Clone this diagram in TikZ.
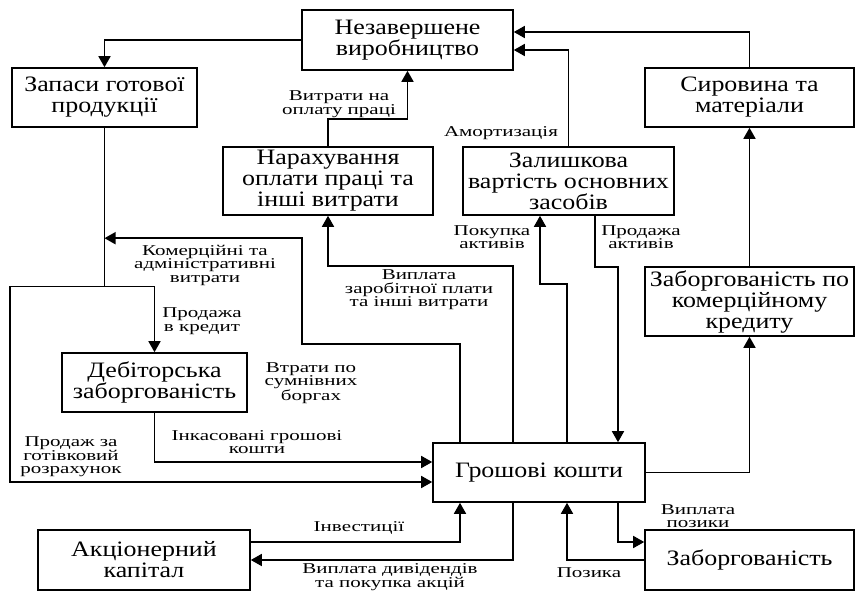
\documentclass[tikz,border=0pt]{standalone}
\usepackage{fontspec}
\setmainfont{Liberation Serif}
\newfontfamily\boxfont[FakeStretch=1.18]{Liberation Serif}
\newfontfamily\lblfont[FakeStretch=1.4]{Liberation Serif}
\usetikzlibrary{arrows.meta}
\begin{document}
\begin{tikzpicture}[x=1pt,y=-1pt,
  box/.style={draw,line width=1.6pt,rectangle,align=center,inner sep=1pt,
    font=\boxfont\fontsize{22}{21}\selectfont},
  lbl/.style={align=center,inner sep=0pt,font=\lblfont\fontsize{15}{13.5}\selectfont},
  flow/.style={line width=1.6pt},
  arr/.style={flow,-{Triangle[length=11pt,width=12pt]}}]
\useasboundingbox (0,0) rectangle (855,591);

% accounts
\node[box,minimum width=211pt,minimum height=60pt] (nez) at (407.5,40) {Незавершене\\виробництво};
\node[box,minimum width=185pt,minimum height=59pt] (zap) at (104.5,97.5) {Запаси готової\\продукції};
\node[box,minimum width=210pt,minimum height=68pt] (nar) at (328,181) {Нарахування\\оплати праці та\\інші витрати};
\node[box,minimum width=211pt,minimum height=68pt] (zal) at (568.5,181) {Залишкова\\вартість основних\\засобів};
\node[box,minimum width=209pt,minimum height=59pt] (syr) at (749.5,97.5) {Сировина та\\матеріали};
\node[box,minimum width=209pt,minimum height=69pt] (zkk) at (749.5,301.5) {Заборгованість по\\комерційному\\кредиту};
\node[box,minimum width=185pt,minimum height=59pt] (deb) at (154.5,382.5) {Дебіторська\\заборгованість};
\node[box,minimum width=212pt,minimum height=59pt] (gro) at (539,472.5) {Грошові кошти};
\node[box,minimum width=212pt,minimum height=60pt] (akc) at (144,560) {Акціонерний\\капітал};
\node[box,minimum width=209pt,minimum height=60pt] (zab) at (749.5,560) {Заборгованість};

% flows into and out of work in progress
\draw[arr] (nez.west) -| (zap.north);
\draw[arr] (nar.north) -- ++(0,-27) -| (nez.south);
\draw[arr] (zal.north) |- ([yshift=-10pt]nez.east);
\draw[arr] (syr.north) |- ([yshift=8pt]nez.east);

% finished goods: credit and cash sales
\draw[flow] (zap.south) -- ++(0,158.5) coordinate (split);
\draw[arr] (split) -| (deb.north);
\draw[arr] (split) -- ++(-94.5,0) |- ([yshift=-9.5pt]gro.west);
\draw[arr] (deb.south) |- ([yshift=10.5pt]gro.west);

% cash out to expenses and assets
\draw[arr] ([xshift=-79pt]gro.north) -- ++(0,-98) -- ++(-158,0) -- ++(0,-106) -- ++(-197.5,0);
\draw[arr] ([xshift=-26pt]gro.north) -- ++(0,-176) -| (nar.south);
\draw[arr] ([xshift=28pt]gro.north) -- ++(0,-158) -| ([xshift=-28.5pt]zal.south);
\draw[arr] ([xshift=26.5pt]zal.south) -- ++(0,51) -| ([xshift=79pt]gro.north);

% trade credit and raw materials
\draw[arr] (gro.east) -| (zkk.south);
\draw[arr] (zkk.north) -- (syr.south);

% equity and loans
\draw[arr] ([yshift=18pt]akc.east) -| ([xshift=-79pt]gro.south);
\draw[arr] ([xshift=-26pt]gro.south) |- (akc.east);
\draw[arr] ([xshift=79pt]gro.south) |- ([yshift=18pt]zab.west);
\draw[arr] (zab.west) -| ([xshift=28pt]gro.south);

% flow labels
\node[lbl] (l1) at (339,104) {Витрати на\\оплату праці};
\node[lbl] (l2) at (501,133) {Амортизація};
\node[lbl] (l3) at (205,265) {Комерційні та\\адміністративні\\витрати};
\node[lbl] (l4) at (202,321) {Продажа\\в кредит};
\node[lbl] (l5) at (419,290) {Виплата\\заробітної плати\\та інші витрати};
\node[lbl] (l6) at (492,237) {Покупка\\активів};
\node[lbl] (l7) at (641,237) {Продажа\\активів};
\node[lbl] (l8) at (311,383) {Втрати по\\сумнівних\\боргах};
\node[lbl] (l9) at (257,442) {Інкасовані грошові\\кошти};
\node[lbl] (l10) at (71,457) {Продаж за\\готівковий\\розрахунок};
\node[lbl] (l11) at (359,528) {Інвестиції};
\node[lbl] (l12) at (390,577) {Виплата дивідендів\\та покупка акцій};
\node[lbl] (l13) at (698,516) {Виплата\\позики};
\node[lbl] (l14) at (589,573) {Позика};
\end{tikzpicture}
\end{document}
